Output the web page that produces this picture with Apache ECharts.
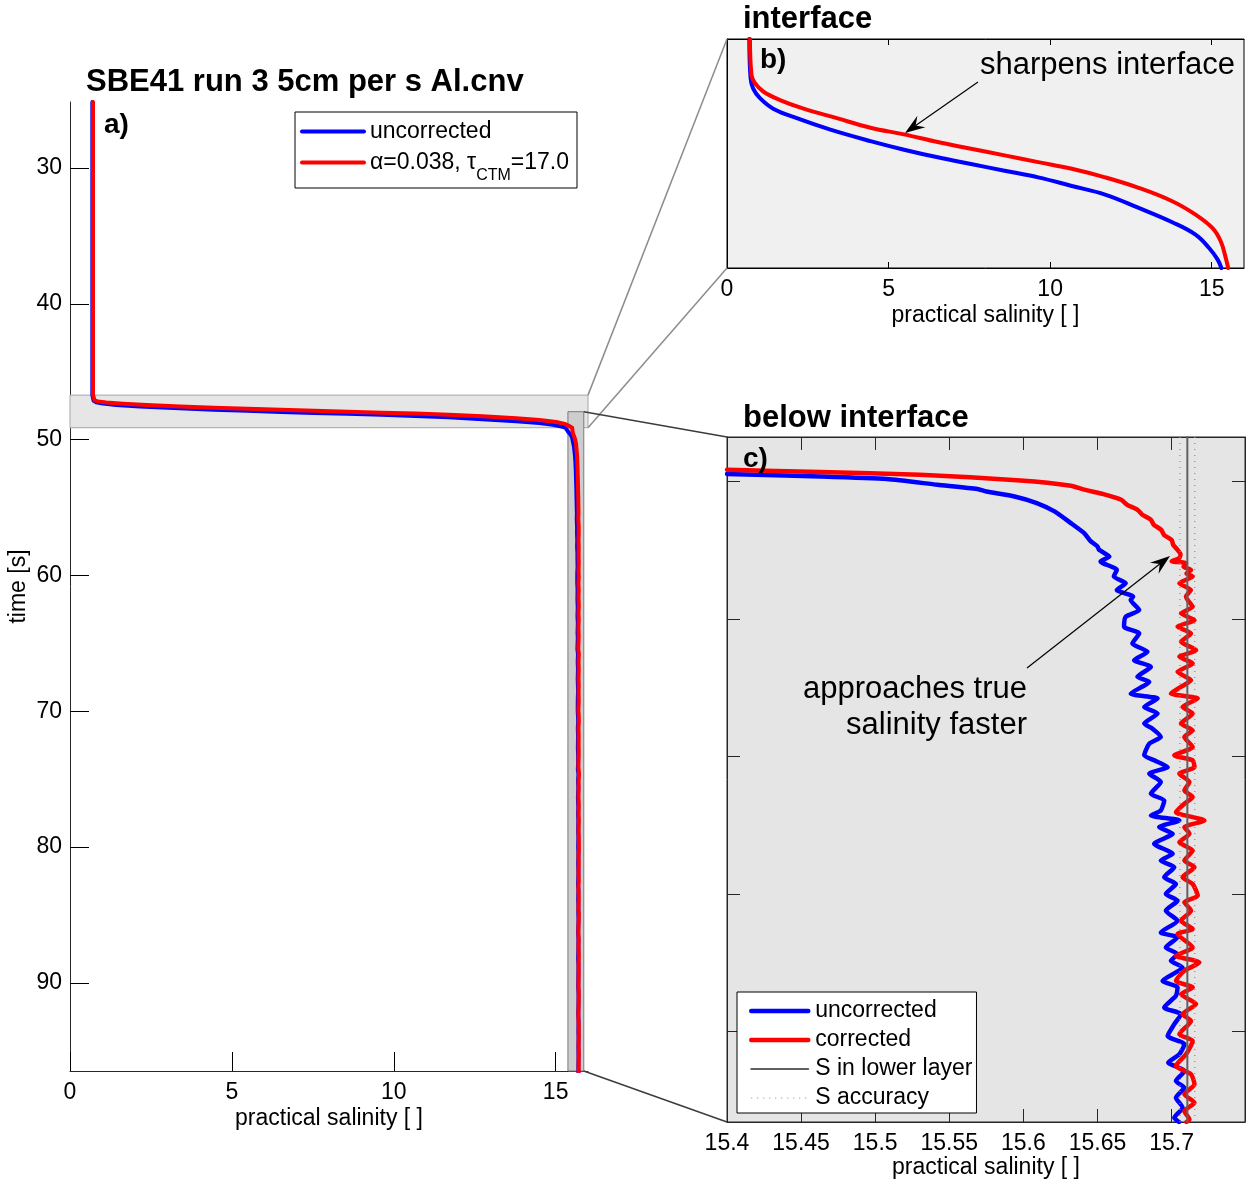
<!DOCTYPE html>
<html><head><meta charset="utf-8">
<script src="https://cdn.jsdelivr.net/npm/echarts@6/dist/echarts.min.js"></script>
<style>html,body{margin:0;padding:0;background:#fff}#c{width:1250px;height:1181px}</style>
</head><body><div id="c"></div>
<script>
const FONT = '"Liberation Sans", Arial, Helvetica, sans-serif';
const RED_A = 'α=0.038, τCTM=17.0';

// ---- tick labels ----
const salTicksAB = [0, 5, 10, 15];
const timeTicksA = [30, 40, 50, 60, 70, 80, 90];
const salTicksC = [15.4, 15.45, 15.5, 15.55, 15.6, 15.65, 15.7];
const timeTicksC = [50, 60, 70, 80, 90];

// ---- axis limits ----
const salLimA = [0, 16];
const timeLimA = [25.14, 96.48];
const salLimB = [0, 16];
const timeLimB = [46.72, 49.12];
const salLimC = [15.4, 15.7495];
const timeLimC = [46.77, 96.56];

// ---- zoom boxes in panel a: [sal0, time0, sal1, time1] ----
const zoomBoxes = [[0, 46.72, 16, 49.12], [15.38, 47.94, 15.87, 96.48]];

// ---- upper layer (before the interface) ----
const upperTime = [25.14, 46.72];
const upperBlue = [0.69, 0.69];
const upperRed = [0.71, 0.71];

// ---- panel b: interface ----
const bTimeRed = [46.72, 47.10, 47.18, 47.27, 47.36, 47.45, 47.55, 47.65, 47.72, 47.80, 47.87, 47.94, 48.01, 48.08, 48.17, 48.28, 48.42, 48.56, 48.70, 48.84, 49.02, 49.12];
const bRed     = [0.71, 0.76, 0.86, 1.12, 1.64, 2.37, 3.40, 4.44, 5.48, 6.52, 7.55, 8.59, 9.63, 10.67, 11.70, 12.74, 13.78, 14.50, 15.02, 15.28, 15.44, 15.51];
const bTimeBlue = [46.72, 47.13, 47.24, 47.34, 47.45, 47.55, 47.67, 47.79, 47.88, 47.96, 48.03, 48.10, 48.17, 48.26, 48.35, 48.49, 48.64, 48.77, 48.91, 49.03, 49.12];
const bBlue     = [0.69, 0.73, 0.81, 1.02, 1.43, 2.16, 3.20, 4.44, 5.48, 6.52, 7.55, 8.59, 9.63, 10.67, 11.70, 12.74, 13.78, 14.50, 14.92, 15.18, 15.30];

// ---- panel c: below interface ----
const cTimeBlue = [
  49.46, 49.64, 49.83, 50.24, 50.55, 50.73, 51.09, 51.57, 52.18, 53.03,
  53.76, 54.30, 54.73, 54.97, 55.46, 55.82, 56.43, 56.91, 57.40, 57.89,
  58.37, 58.62, 59.35, 59.83, 60.56, 61.05, 61.78, 62.38, 62.99, 63.48,
  64.20, 64.57, 65.42, 65.78, 66.39, 66.87, 67.60, 67.97, 68.57, 69.06,
  69.91, 70.27, 70.76, 71.24, 71.85, 72.70, 73.19, 73.91, 74.28, 74.64,
  75.13, 75.61, 76.34, 77.07, 77.56, 78.04, 78.77, 79.26, 79.98, 80.47,
  81.20, 81.93, 82.78, 83.14, 83.87, 84.35, 84.84, 85.33, 86.30, 86.78,
  87.39, 88.24, 88.72, 89.45, 90.30, 90.91, 91.64, 92.24, 92.85, 93.58,
  94.06, 94.79, 95.52, 96.25, 96.56];
const cBlue = [
  15.400, 15.463, 15.508, 15.542, 15.569, 15.575, 15.594, 15.609, 15.621, 15.632,
  15.641, 15.645, 15.650, 15.651, 15.658, 15.652, 15.663, 15.661, 15.669, 15.663,
  15.674, 15.6724, 15.6781, 15.6690, 15.6679, 15.6781, 15.6735, 15.6837, 15.6747, 15.6860,
  15.6769, 15.6849, 15.6724, 15.6905, 15.6815, 15.6905, 15.6815, 15.6871, 15.6927, 15.6849,
  15.6815, 15.6882, 15.6973, 15.6849, 15.6927, 15.6860, 15.6950, 15.6927, 15.6860, 15.7052,
  15.6916, 15.7007, 15.6882, 15.7007, 15.6927, 15.7018, 15.6950, 15.7029, 15.6961, 15.7040,
  15.6961, 15.7040, 15.6927, 15.7040, 15.6961, 15.7040, 15.6995, 15.7074, 15.6939, 15.7040,
  15.7029, 15.6950, 15.7063, 15.7018, 15.6973, 15.7086, 15.7052, 15.6977, 15.7086, 15.7029,
  15.7086, 15.7029, 15.7074, 15.7018, 15.7050];
const cTimeRed = [
  49.15, 49.32, 49.51, 49.93, 50.31, 50.60, 50.92, 51.33, 51.70, 52.06,
  52.40, 52.79, 53.15, 53.52, 53.90, 54.25, 54.60, 54.97, 55.30, 55.58,
  55.80, 55.94, 56.20, 56.43, 56.70, 56.91, 57.40, 57.89, 58.37, 58.62,
  59.11, 59.59, 60.08, 60.56, 61.05, 61.65, 62.26, 62.75, 63.23, 63.84,
  64.45, 64.93, 65.42, 65.78, 66.39, 66.87, 67.60, 68.09, 68.57, 69.30,
  69.91, 70.27, 70.76, 71.24, 71.85, 72.46, 72.94, 73.43, 74.04, 74.64,
  75.13, 75.61, 76.22, 76.83, 77.56, 78.04, 78.77, 79.26, 80.11, 80.59,
  81.20, 81.93, 82.53, 82.90, 83.87, 84.48, 84.96, 85.57, 86.30, 86.78,
  87.27, 87.98, 88.72, 89.21, 90.18, 90.67, 91.64, 92.49, 93.09, 93.82,
  94.55, 95.16, 95.77, 96.37, 96.56];
const cRed = [
  15.400, 15.463, 15.530, 15.598, 15.632, 15.641, 15.654, 15.666, 15.670, 15.677,
  15.680, 15.686, 15.688, 15.693, 15.695, 15.700, 15.701, 15.704, 15.706, 15.705,
  15.700, 15.7097, 15.708, 15.7131, 15.710, 15.7142, 15.7052, 15.7130, 15.7097, 15.7108,
  15.7142, 15.7063, 15.7154, 15.7040, 15.7131, 15.7063, 15.7165, 15.7052, 15.7142, 15.7040,
  15.7131, 15.7063, 15.6995, 15.7176, 15.7074, 15.7142, 15.7063, 15.7142, 15.7086, 15.7142,
  15.7018, 15.7142, 15.7154, 15.7052, 15.7120, 15.7086, 15.7142, 15.7086, 15.7029, 15.7221,
  15.7086, 15.7120, 15.7052, 15.7142, 15.7086, 15.7154, 15.7074, 15.7142, 15.7176, 15.7086,
  15.7131, 15.7063, 15.7142, 15.7040, 15.7142, 15.7029, 15.7187, 15.7086, 15.7029, 15.7142,
  15.7063, 15.7165, 15.7074, 15.7131, 15.7052, 15.7142, 15.7097, 15.7029, 15.7131, 15.7154,
  15.7086, 15.7154, 15.7086, 15.7120, 15.7100];

const sLowerLayer = 15.7106;
const sAccuracy = 0.005;

// ---- helpers ----
const zip = (s, t) => s.map((v, i) => [v, t[i]]);
const bBluePts = zip(bBlue, bTimeBlue), bRedPts = zip(bRed, bTimeRed);
const cBluePts = zip(cBlue, cTimeBlue), cRedPts = zip(cRed, cTimeRed);
function joinA(up, b, c) {
  const last = b[b.length - 1];
  return up.concat(b, c.filter(p => p[1] > last[1] && p[0] > last[0]));
}
const aBluePts = joinA(zip(upperBlue, upperTime), bBluePts, cBluePts);
const aRedPts = joinA(zip(upperRed, upperTime), bRedPts, cRedPts);

const BLUE = '#0000ff', RED = '#ff0000', SLINE = '#606060', SDOT = '#8a8a8a';
const DOTS = [1, 5];
const lbl = { fontFamily: FONT, fontSize: 23, color: '#000' };
const rectStyles = [
  { fill: '#e6e6e6', stroke: '#a6a6a6' },
  { fill: '#cdcdcd', stroke: '#7a7a7a' }
];

function lineSeries(name, data, color, width, xi, yi, extra) {
  return Object.assign({
    type: 'line', name, data, xAxisIndex: xi, yAxisIndex: yi,
    symbol: 'none', showSymbol: false, clip: true, z: 3,
    lineStyle: { color, width, cap: 'round', join: 'round' },
    itemStyle: { color }, emphasis: { disabled: true }
  }, extra || {});
}
const legendItem = (name, color, width, type) =>
  ({ name, lineStyle: { color, width, type: type || 'solid', opacity: 1 }, itemStyle: { color, opacity: 0 } });

const chart = echarts.init(document.getElementById('c'), null, { renderer: 'canvas' });

const titleFont = { fontFamily: FONT, fontSize: 31, fontWeight: 'bold', color: '#000' };
const option = {
  animation: false,
  backgroundColor: '#fff',
  title: [
    { text: 'SBE41 run 3 5cm per s Al.cnv', left: 86, top: 67, padding: 0, textStyle: titleFont },
    { text: 'interface', left: 743, top: 4, padding: 0, textStyle: titleFont },
    { text: 'below interface', left: 743, top: 403, padding: 0, textStyle: titleFont }
  ],
  grid: [
    { left: 70, top: 102, width: 518, height: 969, outerBoundsMode: 'none', containLabel: false },
    { left: 727, top: 39, width: 517, height: 229, show: true, backgroundColor: '#f0f0f0', borderColor: '#000', borderWidth: 1, outerBoundsMode: 'none', containLabel: false },
    { left: 727, top: 437, width: 518, height: 685, show: true, backgroundColor: '#e5e5e5', borderColor: '#262626', borderWidth: 1, outerBoundsMode: 'none', containLabel: false }
  ],
  xAxis: [
    { gridIndex: 0, type: 'value', min: salLimA[0], max: salLimA[1],
      axisLine: { lineStyle: { color: '#262626', width: 1 } },
      axisTick: { inside: true, length: 19, customValues: salTicksAB, lineStyle: { color: '#000' } },
      axisLabel: Object.assign({ margin: 10, customValues: salTicksAB }, lbl),
      splitLine: { show: false },
      name: 'practical salinity [ ]', nameLocation: 'middle', nameGap: 36, nameMoveOverlap: false, nameTextStyle: lbl },
    { gridIndex: 1, type: 'value', min: salLimB[0], max: salLimB[1],
      axisLine: { lineStyle: { color: '#000' } },
      axisTick: { inside: true, length: 6, customValues: salTicksAB, lineStyle: { color: '#000' } },
      axisLabel: Object.assign({ margin: 10, customValues: salTicksAB }, lbl),
      splitLine: { show: false },
      name: 'practical salinity [ ]', nameLocation: 'middle', nameGap: 36, nameMoveOverlap: false, nameTextStyle: lbl },
    { gridIndex: 1, type: 'value', position: 'top', min: salLimB[0], max: salLimB[1],
      axisLine: { lineStyle: { color: '#000' } },
      axisTick: { inside: true, length: 6, customValues: salTicksAB, lineStyle: { color: '#000' } },
      axisLabel: { show: false }, splitLine: { show: false } },
    { gridIndex: 2, type: 'value', min: salLimC[0], max: salLimC[1],
      axisLine: { lineStyle: { color: '#262626' } },
      axisTick: { inside: true, length: 13, customValues: salTicksC, lineStyle: { color: '#262626' } },
      axisLabel: Object.assign({ margin: 10, customValues: salTicksC, formatter: v => String(+v.toFixed(2)) }, lbl),
      splitLine: { show: false },
      name: 'practical salinity [ ]', nameLocation: 'middle', nameGap: 34, nameMoveOverlap: false, nameTextStyle: lbl },
    { gridIndex: 2, type: 'value', position: 'top', min: salLimC[0], max: salLimC[1],
      axisLine: { lineStyle: { color: '#262626' } },
      axisTick: { inside: true, length: 13, customValues: salTicksC, lineStyle: { color: '#262626' } },
      axisLabel: { show: false }, splitLine: { show: false } }
  ],
  yAxis: [
    { gridIndex: 0, type: 'value', inverse: true, min: timeLimA[0], max: timeLimA[1],
      axisLine: { lineStyle: { color: '#262626' } },
      axisTick: { inside: true, length: 19, customValues: timeTicksA, lineStyle: { color: '#000' } },
      axisLabel: Object.assign({ margin: 8, customValues: timeTicksA }, lbl),
      splitLine: { show: false },
      name: 'time [s]', nameLocation: 'middle', nameGap: 40, nameTextStyle: lbl },
    { gridIndex: 1, type: 'value', inverse: true, min: timeLimB[0], max: timeLimB[1],
      axisLine: { lineStyle: { color: '#000' } }, axisTick: { show: false },
      axisLabel: { show: false }, splitLine: { show: false } },
    { gridIndex: 2, type: 'value', inverse: true, min: timeLimC[0], max: timeLimC[1],
      axisLine: { lineStyle: { color: '#262626' } },
      axisTick: { inside: true, length: 13, customValues: timeTicksC, lineStyle: { color: '#262626' } },
      axisLabel: { show: false }, splitLine: { show: false } },
    { gridIndex: 2, type: 'value', position: 'right', inverse: true, min: timeLimC[0], max: timeLimC[1],
      axisLine: { lineStyle: { color: '#262626' } },
      axisTick: { inside: true, length: 13, customValues: timeTicksC, lineStyle: { color: '#262626' } },
      axisLabel: { show: false }, splitLine: { show: false } }
  ],
  legend: [
    { data: [legendItem('uncorrected', BLUE, 4), legendItem(RED_A, RED, 4)],
      left: 295, top: 112, orient: 'vertical',
      backgroundColor: '#fff', borderColor: '#000', borderWidth: 1, borderRadius: 0,
      padding: [8, 8, 4, 5], itemWidth: 62, itemHeight: 1, itemGap: 8, selectedMode: false,
      formatter: n => n === RED_A ? '{n|α=0.038, τ}{s|CTM}{n|=17.0}' : '{n|' + n + '}',
      textStyle: { fontFamily: FONT, fontSize: 23, color: '#000', padding: [0, 0, 0, 1],
        rich: { n: { fontFamily: FONT, fontSize: 23, lineHeight: 27, verticalAlign: 'middle' },
                s: { fontFamily: FONT, fontSize: 16, lineHeight: 27, verticalAlign: 'bottom', padding: [0, 0, -8, 0] } } } },
    { data: [legendItem('uncorrected', BLUE, 4.5), legendItem('corrected', RED, 4.5),
             legendItem('S in lower layer', SLINE, 2), legendItem('S accuracy', SDOT, 1.2, DOTS)],
      left: 737, top: 992, orient: 'vertical',
      backgroundColor: '#fff', borderColor: '#000', borderWidth: 1, borderRadius: 0,
      padding: [6, 4, 2, 12], itemWidth: 57, itemHeight: 1, itemGap: 3, selectedMode: false,
      textStyle: { fontFamily: FONT, fontSize: 23, color: '#000', lineHeight: 26, padding: [0, 0, 0, 2] } }
  ],
  series: [
    { type: 'custom', name: 'zoom boxes', xAxisIndex: 0, yAxisIndex: 0, z: 1, silent: true,
      data: zoomBoxes, encode: { x: [0, 2], y: [1, 3] },
      renderItem: (params, api) => {
        const p0 = api.coord([api.value(0), api.value(1)]);
        const p1 = api.coord([api.value(2), api.value(3)]);
        const st = rectStyles[params.dataIndex];
        return { type: 'rect',
          shape: { x: Math.min(p0[0], p1[0]), y: Math.min(p0[1], p1[1]), width: Math.abs(p1[0] - p0[0]), height: Math.abs(p1[1] - p0[1]) },
          style: { fill: st.fill, stroke: st.stroke, lineWidth: 1 } };
      } },
    lineSeries('uncorrected', aBluePts, BLUE, 4, 0, 0),
    lineSeries(RED_A, aRedPts, RED, 4, 0, 0),
    lineSeries('uncorrected', bBluePts, BLUE, 4, 1, 1, { smooth: 0.4 }),
    lineSeries(RED_A, bRedPts, RED, 4, 1, 1, { smooth: 0.4 }),
    lineSeries('uncorrected', cBluePts, BLUE, 4.5, 3, 2, { smooth: 0.2 }),
    lineSeries('corrected', cRedPts, RED, 4.5, 3, 2, { smooth: 0.2 }),
    lineSeries('S in lower layer', [[sLowerLayer, timeLimC[0]], [sLowerLayer, timeLimC[1]]], SLINE, 2, 3, 2, { z: 4 }),
    lineSeries('S accuracy', [[sLowerLayer - sAccuracy, timeLimC[0]], [sLowerLayer - sAccuracy, timeLimC[1]]], SDOT, 1.2, 3, 2,
      { z: 4, lineStyle: { color: SDOT, width: 1.2, type: DOTS } }),
    lineSeries('S accuracy', [[sLowerLayer + sAccuracy, timeLimC[0]], [sLowerLayer + sAccuracy, timeLimC[1]]], SDOT, 1.2, 3, 2,
      { z: 4, lineStyle: { color: SDOT, width: 1.2, type: DOTS } })
  ]
};
chart.setOption(option);

// connectors and annotations
const pa = q => chart.convertToPixel({ xAxisIndex: 0, yAxisIndex: 0 }, q);
const pb = q => chart.convertToPixel({ xAxisIndex: 1, yAxisIndex: 1 }, q);
const pc = q => chart.convertToPixel({ xAxisIndex: 3, yAxisIndex: 2 }, q);
const L = zoomBoxes[0], D = zoomBoxes[1];
function seg(p, q, color) {
  return { type: 'line', shape: { x1: p[0], y1: p[1], x2: q[0], y2: q[1] }, style: { stroke: color, lineWidth: 1.5 }, z: 5 };
}
function arrow(from, tip) {
  const dx = tip[0] - from[0], dy = tip[1] - from[1], len = Math.hypot(dx, dy);
  const ux = dx / len, uy = dy / len, nx = -uy, ny = ux;
  const hl = 20, hw = 7, notch = 13;
  const bx = tip[0] - hl * ux, by = tip[1] - hl * uy;
  const mx = tip[0] - notch * ux, my = tip[1] - notch * uy;
  return [
    { type: 'line', shape: { x1: from[0], y1: from[1], x2: mx, y2: my }, style: { stroke: '#000', lineWidth: 1.2 }, z: 10 },
    { type: 'polygon', shape: { points: [tip, [bx + hw * nx, by + hw * ny], [mx, my], [bx - hw * nx, by - hw * ny]] }, style: { fill: '#000' }, z: 10 }
  ];
}
const txt = (text, x, y, size, weight, align) => ({
  type: 'text', x, y, z: 10,
  style: { text, fontFamily: FONT, fontSize: size, fontWeight: weight || 'normal', fill: '#000', textAlign: align || 'left', textVerticalAlign: 'middle', lineHeight: 36 }
});
chart.setOption({
  graphic: [
    seg(pa([L[2], L[1]]), pb([salLimB[0], timeLimB[0]]), '#8c8c8c'),
    seg(pa([L[2], L[3]]), pb([salLimB[0], timeLimB[1]]), '#8c8c8c'),
    seg(pa([D[2], D[1]]), pc([salLimC[0], timeLimC[0]]), '#3c3c3c'),
    seg(pa([D[2], D[3]]), pc([salLimC[0], timeLimC[1]]), '#3c3c3c'),
    txt('a)', 104, 125, 28, 'bold'),
    txt('b)', 760, 60, 28, 'bold'),
    txt('c)', 743, 459, 28, 'bold'),
    txt('sharpens interface', 980, 65, 31),
    txt('approaches true\nsalinity faster', 1027, 707, 31, 'normal', 'right'),
    ...arrow([978, 82], [905, 133]),
    ...arrow([1027, 668], [1170, 556])
  ]
});
</script></body></html>
